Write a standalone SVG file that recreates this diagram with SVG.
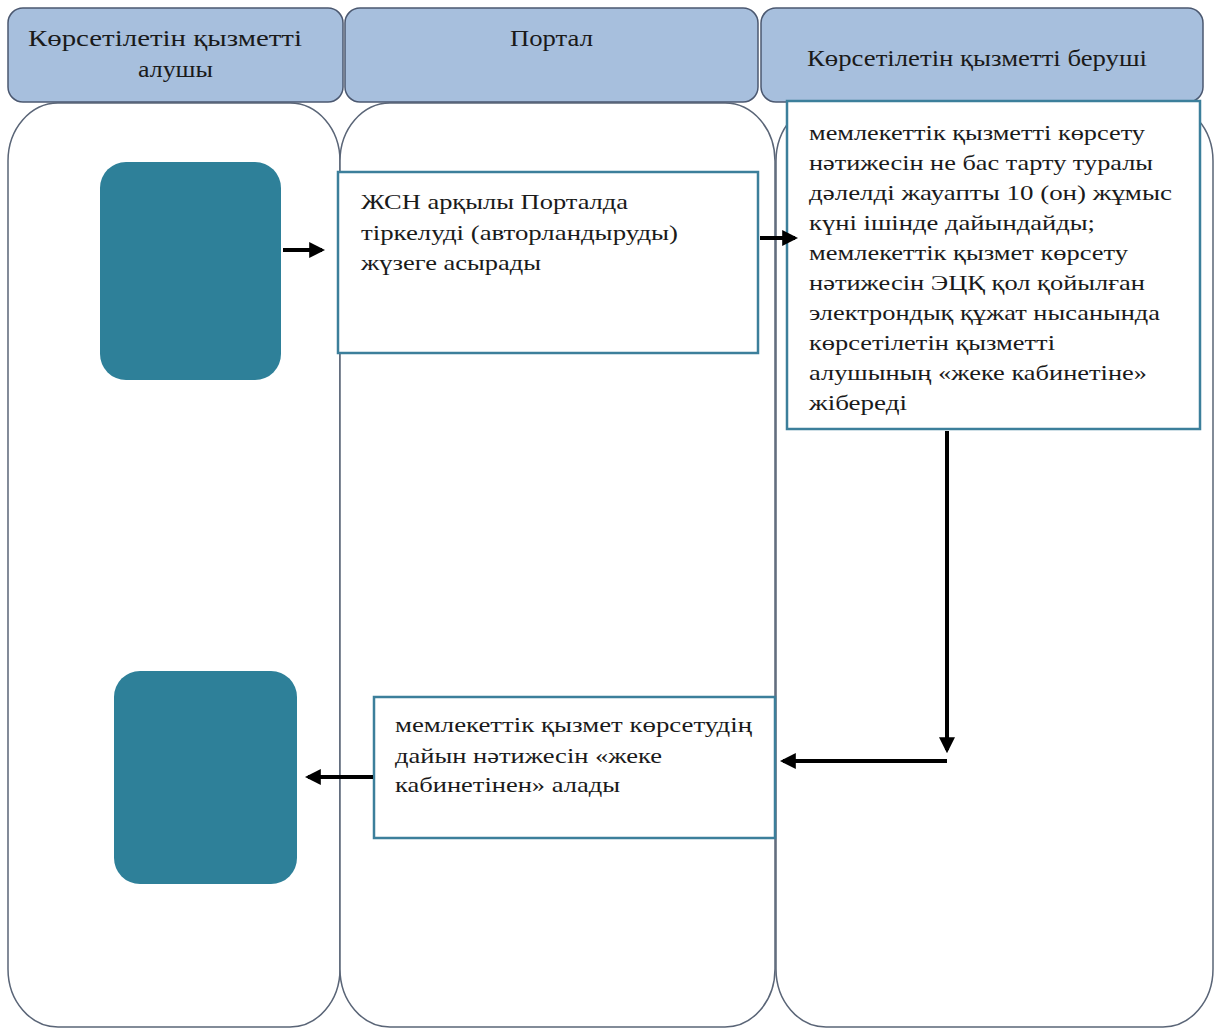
<svg xmlns="http://www.w3.org/2000/svg" width="1214" height="1029" viewBox="0 0 1214 1029">
<style>
.hdr{fill:#A7BFDD;stroke:#4B5870;stroke-width:1.5}
.lane{fill:#FFFFFF;stroke:#5A6577;stroke-width:1.5}
.term{fill:#2E8099;stroke:none}
.box{fill:#FFFFFF;stroke:#3C7F9B;stroke-width:2.5}
.t{font-family:"Liberation Serif","DejaVu Serif",serif;font-size:21px;fill:#1a1a1a}
.h{font-family:"Liberation Serif","DejaVu Serif",serif;font-size:23px;fill:#1a1a1a}
.con{fill:none;stroke:#000;stroke-width:4}
</style>
<defs>
<marker id="ah" markerWidth="4" markerHeight="4" refX="3.2" refY="2" orient="auto" markerUnits="strokeWidth">
<path d="M0,0 L4,2 L0,4 Z" fill="#000"/>
</marker>
</defs>
<rect width="1214" height="1029" fill="#FFFFFF"/>
<g id="lane-1">
<rect class="lane" x="8" y="103" width="332" height="924" rx="50" ry="58"/>
<rect class="hdr" x="8" y="8" width="335" height="94" rx="15"/>
<text class="h" x="28" y="46" textLength="274" lengthAdjust="spacingAndGlyphs">Көрсетілетін қызметті</text>
<text class="h" x="138" y="77" textLength="75" lengthAdjust="spacingAndGlyphs">алушы</text>
</g>
<g id="lane-2">
<rect class="lane" x="340" y="103" width="435" height="924" rx="50" ry="58"/>
<rect class="hdr" x="345" y="8" width="413" height="94" rx="15"/>
<text class="h" x="510" y="46" textLength="83" lengthAdjust="spacingAndGlyphs">Портал</text>
</g>
<g id="lane-3">
<rect class="lane" x="776" y="103" width="437" height="924" rx="50" ry="58"/>
<rect class="hdr" x="761" y="8" width="442" height="94" rx="15"/>
<text class="h" x="807" y="66" textLength="340" lengthAdjust="spacingAndGlyphs">Көрсетілетін қызметті беруші</text>
</g>
<g id="start">
<rect class="term" x="100" y="162" width="181" height="218" rx="26"/>
</g>
<g id="end">
<rect class="term" x="114" y="671" width="183" height="213" rx="26"/>
</g>
<g id="step-register">
<rect class="box" x="338" y="172" width="420" height="181"/>
<text class="t" x="361" y="209" textLength="267" lengthAdjust="spacingAndGlyphs">ЖСН арқылы Порталда</text>
<text class="t" x="361" y="240" textLength="317" lengthAdjust="spacingAndGlyphs">тіркелуді (авторландыруды)</text>
<text class="t" x="361" y="270" textLength="180" lengthAdjust="spacingAndGlyphs">жүзеге асырады</text>
</g>
<g id="step-prepare">
<rect class="box" x="787" y="101" width="413" height="328"/>
<text class="t" x="809" y="140" textLength="336" lengthAdjust="spacingAndGlyphs">мемлекеттік қызметті көрсету</text>
<text class="t" x="809" y="170" textLength="344" lengthAdjust="spacingAndGlyphs">нәтижесін не бас тарту туралы</text>
<text class="t" x="809" y="200" textLength="363" lengthAdjust="spacingAndGlyphs">дәлелді жауапты  10 (он) жұмыс</text>
<text class="t" x="809" y="230" textLength="286" lengthAdjust="spacingAndGlyphs">күні ішінде дайындайды;</text>
<text class="t" x="809" y="260" textLength="319" lengthAdjust="spacingAndGlyphs">мемлекеттік қызмет көрсету</text>
<text class="t" x="809" y="290" textLength="336" lengthAdjust="spacingAndGlyphs">нәтижесін ЭЦҚ қол қойылған</text>
<text class="t" x="809" y="320" textLength="351" lengthAdjust="spacingAndGlyphs">электрондық құжат нысанында</text>
<text class="t" x="809" y="350" textLength="246" lengthAdjust="spacingAndGlyphs">көрсетілетін қызметті</text>
<text class="t" x="809" y="380" textLength="338" lengthAdjust="spacingAndGlyphs">алушының «жеке кабинетіне»</text>
<text class="t" x="809" y="410" textLength="98" lengthAdjust="spacingAndGlyphs">жібереді</text>
</g>
<g id="step-receive">
<rect class="box" x="374" y="697" width="401" height="141"/>
<text class="t" x="395" y="732" textLength="357" lengthAdjust="spacingAndGlyphs">мемлекеттік қызмет көрсетудің</text>
<text class="t" x="395" y="763" textLength="267" lengthAdjust="spacingAndGlyphs">дайын нәтижесін «жеке</text>
<text class="t" x="395" y="792" textLength="225" lengthAdjust="spacingAndGlyphs">кабинетінен» алады</text>
</g>
<g id="connectors">
<line class="con" x1="283" y1="250" x2="322" y2="250" marker-end="url(#ah)"/>
<line class="con" x1="760" y1="238" x2="795" y2="238" marker-end="url(#ah)"/>
<line class="con" x1="947" y1="431" x2="947" y2="750" marker-end="url(#ah)"/>
<line class="con" x1="947" y1="761" x2="783" y2="761" marker-end="url(#ah)"/>
<line class="con" x1="373" y1="777" x2="308" y2="777" marker-end="url(#ah)"/>
</g>
</svg>
